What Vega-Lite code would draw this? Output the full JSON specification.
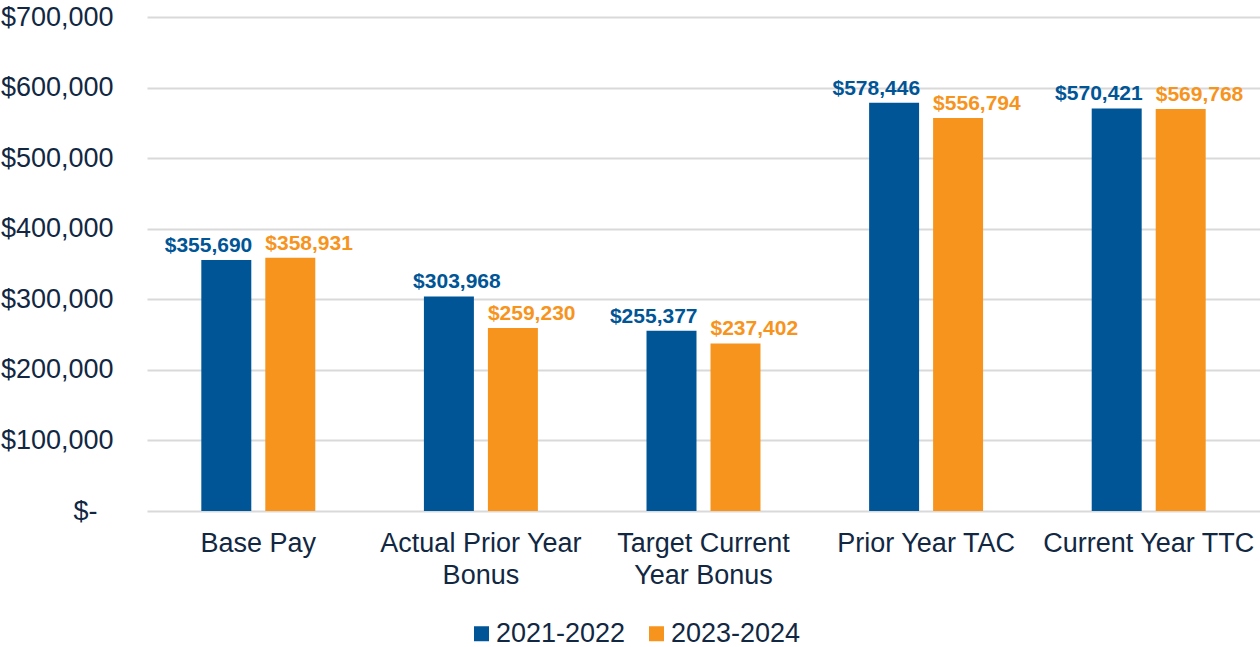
{
  "$schema": "https://vega.github.io/schema/vega-lite/v6.json",
  "width": 1113,
  "height": 494,
  "autosize": {"type": "none"},
  "padding": {"left": 147, "top": 17, "right": 0, "bottom": 136},
  "background": "white",
  "config": {
    "view": {"stroke": null},
    "font": "Liberation Sans"
  },
  "data": {
    "values": [
      {"category": "Base Pay", "period": "2021-2022", "value": 355690},
      {"category": "Base Pay", "period": "2023-2024", "value": 358931},
      {"category": "Actual Prior Year Bonus", "period": "2021-2022", "value": 303968},
      {"category": "Actual Prior Year Bonus", "period": "2023-2024", "value": 259230},
      {"category": "Target Current Year Bonus", "period": "2021-2022", "value": 255377},
      {"category": "Target Current Year Bonus", "period": "2023-2024", "value": 237402},
      {"category": "Prior Year TAC", "period": "2021-2022", "value": 578446},
      {"category": "Prior Year TAC", "period": "2023-2024", "value": 556794},
      {"category": "Current Year TTC", "period": "2021-2022", "value": 570421},
      {"category": "Current Year TTC", "period": "2023-2024", "value": 569768}
    ]
  },
  "encoding": {
    "x": {
      "field": "category",
      "type": "nominal",
      "sort": null,
      "scale": {"paddingInner": 0.488, "paddingOuter": 0.244},
      "axis": {
        "title": null,
        "labelAngle": 0,
        "labelFontSize": 27,
        "labelColor": "#112742",
        "labelPadding": 19,
        "labelLineHeight": 32,
        "labelLimit": 0,
        "domain": false,
        "ticks": false,
        "labelExpr": "datum.value == 'Actual Prior Year Bonus' ? ['Actual Prior Year', 'Bonus'] : datum.value == 'Target Current Year Bonus' ? ['Target Current', 'Year Bonus'] : datum.value"
      }
    },
    "xOffset": {
      "field": "period",
      "type": "nominal",
      "scale": {"paddingInner": 0.219, "paddingOuter": 0}
    },
    "y": {
      "field": "value",
      "type": "quantitative",
      "scale": {"domain": [0, 700000], "nice": false},
      "axis": {
        "title": null,
        "values": [0, 100000, 200000, 300000, 400000, 500000, 600000, 700000],
        "labelFontSize": 27,
        "labelColor": "#112742",
        "labelPadding": {"condition": {"test": "datum.value == 0", "value": 50}, "value": 34},
        "labelLimit": 0,
        "domain": false,
        "ticks": false,
        "gridColor": "#d9d9d9",
        "gridWidth": 2,
        "labelExpr": "datum.value == 0 ? '$-' : '$' + format(datum.value, ',')"
      }
    }
  },
  "layer": [
    {
      "mark": {"type": "bar"},
      "encoding": {
        "color": {
          "field": "period",
          "type": "nominal",
          "scale": {"domain": ["2021-2022", "2023-2024"], "range": ["#005596", "#F7941D"]},
          "legend": {
            "title": null,
            "orient": "none",
            "direction": "horizontal",
            "legendX": 321,
            "legendY": 603,
            "symbolType": "square",
            "symbolSize": 225,
            "symbolStrokeWidth": 0,
            "labelFontSize": 27,
            "labelColor": "#112742",
            "labelOffset": 1,
            "columnPadding": 17
          }
        }
      }
    },
    {
      "transform": [{"filter": "datum.period == '2021-2022' && datum.category != 'Actual Prior Year Bonus'"}],
      "mark": {"type": "text", "align": "right", "baseline": "alphabetic", "dx": 26, "dy": -8, "fontSize": 21, "fontWeight": "bold", "color": "#005596"},
      "encoding": {"text": {"field": "value", "type": "quantitative", "format": "$,.0f"}}
    },
    {
      "transform": [{"filter": "datum.period == '2021-2022' && datum.category == 'Actual Prior Year Bonus'"}],
      "mark": {"type": "text", "align": "center", "baseline": "alphabetic", "dx": 8, "dy": -8, "fontSize": 21, "fontWeight": "bold", "color": "#005596"},
      "encoding": {"text": {"field": "value", "type": "quantitative", "format": "$,.0f"}}
    },
    {
      "transform": [{"filter": "datum.period == '2023-2024'"}],
      "mark": {"type": "text", "align": "left", "baseline": "alphabetic", "dx": -25, "dy": -8, "fontSize": 21, "fontWeight": "bold", "color": "#F7941D"},
      "encoding": {"text": {"field": "value", "type": "quantitative", "format": "$,.0f"}}
    }
  ]
}
